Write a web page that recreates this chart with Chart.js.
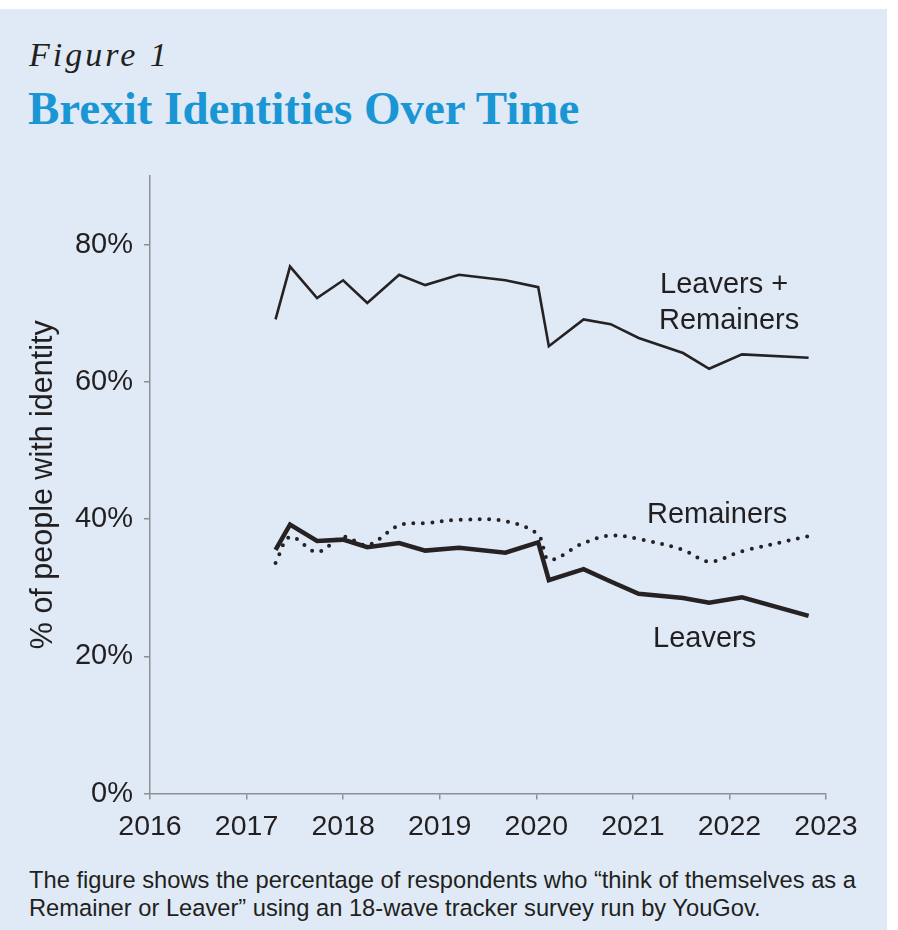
<!DOCTYPE html>
<html>
<head>
<meta charset="utf-8">
<script src="https://cdn.jsdelivr.net/npm/chart.js@4.4.0/dist/chart.umd.min.js"></script>
<style>
  html, body { margin: 0; padding: 0; background: #fff; width: 898px; height: 930px; overflow: hidden; }
  #panel { position: absolute; left: 0; top: 9px; width: 887px; height: 921px; background: #dfeaf6; }
  #fig { position: absolute; left: 29px; top: 38px; font: italic 34px/34px "Liberation Serif", serif; letter-spacing: 3px; color: #231f20; white-space: nowrap; }
  #title { position: absolute; left: 28px; top: 85px; font: bold 47px/47px "Liberation Serif", serif; color: #1a96d4; white-space: nowrap; }
  #wrap { position: absolute; left: 0; top: 160px; width: 898px; height: 700px; }
  #caption { position: absolute; left: 29px; top: 867px; font: 23.7px/27.7px "Liberation Sans", Arial, sans-serif; color: #231f20; white-space: nowrap; }
</style>
</head>
<body>
<div id="panel"></div>
<div id="fig">Figure 1</div>
<div id="title">Brexit Identities Over Time</div>
<div id="wrap"><canvas id="chart" width="898" height="700"></canvas></div>
<div id="caption">The figure shows the percentage of respondents who “think of themselves as a<br>Remainer or Leaver” using an 18-wave tracker survey run by YouGov.</div>
<script>
// survey waves (decimal year) and share of respondents with each identity (%)
const waveDates = [2017.30, 2017.45, 2017.73, 2018.00, 2018.25, 2018.58, 2018.85, 2019.20, 2019.68,
                   2020.02, 2020.13, 2020.49, 2020.77, 2021.06, 2021.52, 2021.79, 2022.13, 2022.82];
const combined  = [69.1, 76.8, 72.2, 74.8, 71.5, 75.6, 74.1, 75.6, 74.8,
                   73.8, 65.2, 69.1, 68.4, 66.4, 64.2, 61.9, 64.0, 63.5];
const leavers   = [35.5, 39.2, 36.8, 37.0, 35.9, 36.5, 35.4, 35.8, 35.1,
                   36.6, 31.1, 32.7, 30.9, 29.1, 28.5, 27.8, 28.6, 25.9];
const remainers = [33.6, 37.4, 35.2, 37.4, 36.2, 39.1, 39.4, 39.9, 39.7,
                   37.7, 34.1, 36.5, 37.6, 37.1, 35.5, 33.8, 35.3, 37.5];
const xTicks = [2016, 2017, 2018, 2019, 2020, 2021, 2022, 2023];
const yTicks = [0, 20, 40, 60, 80];

const ink = '#231f20';
const axisGrey = '#8f8f8f';
const pts = arr => waveDates.map((d, i) => ({ x: d, y: arr[i] }));

const seriesLabels = {
  id: 'seriesLabels',
  afterDatasetsDraw(chart) {
    const ctx = chart.ctx;
    ctx.save();
    ctx.font = '29px "Liberation Sans", Arial, sans-serif';
    ctx.fillStyle = ink;
    ctx.textBaseline = 'alphabetic';
    ctx.fillText('Leavers +', 660, 133);
    ctx.fillText('Remainers', 659, 169);
    ctx.fillText('Remainers', 647, 363);
    ctx.fillText('Leavers', 653, 487);
    ctx.restore();
  }
};

new Chart(document.getElementById('chart').getContext('2d'), {
  type: 'line',
  data: {
    datasets: [
      {
        label: 'Leavers + Remainers',
        data: pts(combined),
        borderColor: '#262223',
        borderWidth: 2.6,
        pointRadius: 0,
        tension: 0
      },
      {
        label: 'Leavers',
        data: pts(leavers),
        borderColor: '#262223',
        borderWidth: 4.5,
        pointRadius: 0,
        tension: 0
      },
      {
        label: 'Remainers',
        data: pts(remainers),
        borderColor: '#262223',
        borderWidth: 4,
        borderDash: [0, 9.5],
        borderCapStyle: 'round',
        pointRadius: 0,
        tension: 0.35
      }
    ]
  },
  options: {
    responsive: false,
    animation: false,
    layout: { padding: { top: 16, right: 72, bottom: 0, left: 0 } },
    plugins: { legend: { display: false }, tooltip: { enabled: false } },
    scales: {
      x: {
        type: 'linear',
        min: 2016,
        max: 2023,
        afterBuildTicks: s => { s.ticks = xTicks.map(v => ({ value: v })); },
        afterFit: s => { s.height = 66.5; s.paddingLeft = 0; s.paddingRight = 0; },
        ticks: {
          callback: v => String(v),
          color: ink,
          font: { family: 'Liberation Sans', size: 28.5 },
          padding: 11,
          maxRotation: 0
        },
        grid: { drawOnChartArea: false, tickLength: 6, color: axisGrey, lineWidth: 1.5 },
        border: { color: axisGrey, width: 1.5 }
      },
      y: {
        min: 0,
        max: 90,
        afterBuildTicks: s => { s.ticks = yTicks.map(v => ({ value: v })); },
        afterFit: s => { s.width = 150; s.paddingTop = 0; s.paddingBottom = 0; },
        ticks: {
          callback: v => v + '%',
          color: ink,
          font: { family: 'Liberation Sans', size: 29 },
          padding: 11
        },
        grid: { drawOnChartArea: false, tickLength: 6, color: axisGrey, lineWidth: 1.5 },
        border: { color: axisGrey, width: 1.5 },
        title: {
          display: true,
          text: '% of people with identity',
          color: ink,
          font: { family: 'Liberation Sans', size: 30.5 },
          padding: { top: 25, bottom: 0 }
        }
      }
    }
  },
  plugins: [seriesLabels]
});
</script>
</body>
</html>
